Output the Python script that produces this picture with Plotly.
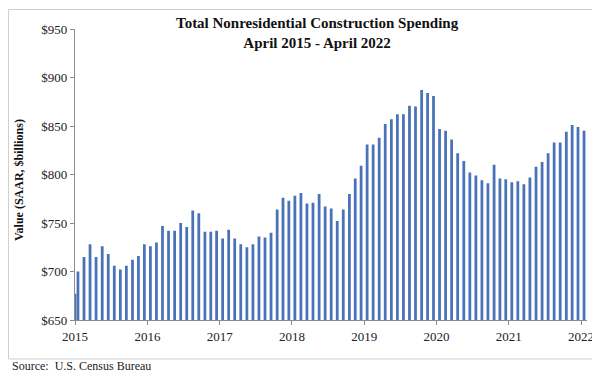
import plotly.graph_objects as go
import pandas as pd

# ---- data ----
months = pd.date_range("2015-04-01", "2022-04-01", freq="MS").strftime("%Y-%m-%d").tolist()
values = [
    700, 715, 728, 715, 726, 718, 706, 702, 706,
    712, 716, 728, 726, 730, 747, 742, 742, 750, 746, 763, 760,
    741, 741, 742, 734, 743, 734, 728, 725, 728, 736, 735, 740,
    764, 776, 773, 778, 781, 770, 771, 780, 767, 765, 752, 764,
    780, 796, 809, 831, 831, 838, 852, 857, 862, 862, 871, 870,
    887, 884, 881, 847, 845, 836, 822, 814, 802, 799, 794, 791,
    810, 796, 795, 792, 793, 790, 797, 808, 813, 822, 833, 833,
    844, 851, 849, 845,
]
lead_in_dates = ["2015-04-01"]
lead_in_values = [677]
tick_dates = ["2015-04-01", "2016-04-01", "2017-04-01", "2018-04-01",
              "2019-04-01", "2020-04-01", "2021-04-01", "2022-04-01"]
tick_labels = ["2015", "2016", "2017", "2018", "2019", "2020", "2021", "2022"]

BAR_COLOR = "#4a72b8"
AXIS_COLOR = "#8c8c8c"
FONT = "Liberation Serif, Times New Roman, serif"
DAY_MS = 86400000
bar_w = 14 * DAY_MS

fig = go.Figure()
fig.add_trace(go.Bar(
    x=lead_in_dates, y=lead_in_values, width=bar_w,
    marker=dict(color=BAR_COLOR, line=dict(width=0)), showlegend=False,
))
fig.add_trace(go.Bar(
    x=months, y=values, width=bar_w,
    xperiod="M1", xperiodalignment="middle",
    marker=dict(color=BAR_COLOR, line=dict(width=0)), showlegend=False,
))

L, R, T, B = 67, 21, 21, 60
W, H = 600, 372
pw = W - L - R
ph = H - T - B

def px_x(x):
    return (x - L) / pw

def px_y(y):
    return (H - B - y) / ph

fig.update_layout(
    width=W, height=H,
    margin=dict(l=L, r=R, t=T, b=B),
    paper_bgcolor="white", plot_bgcolor="white",
    font=dict(family=FONT, color="#222222", size=12.5),
    barmode="overlay",
    xaxis=dict(
        type="date",
        range=["2015-04-01", "2022-05-01"],
        tickvals=tick_dates, ticktext=tick_labels,
        showline=True, linecolor=AXIS_COLOR, linewidth=1.3,
        ticks="outside", ticklen=4, tickcolor=AXIS_COLOR,
        showgrid=False, zeroline=False,
        tickfont=dict(family=FONT, size=13, color="#222222"),
    ),
    yaxis=dict(
        range=[650, 950], dtick=50, tick0=650, tickprefix="$",
        showline=True, linecolor=AXIS_COLOR, linewidth=1.3,
        ticks="outside", ticklen=4, tickcolor=AXIS_COLOR,
        showgrid=False, zeroline=False,
        tickfont=dict(family=FONT, size=13, color="#222222"),
    ),
    shapes=[dict(
        type="rect", xref="paper", yref="paper",
        x0=px_x(0.5), x1=px_x(598.5), y0=px_y(351), y1=px_y(1.5),
        line=dict(color="#cfcfcf", width=1), fillcolor="rgba(0,0,0,0)",
        layer="below",
    )],
    annotations=[
        dict(text="<b>Total Nonresidential Construction Spending</b><br><b>April 2015 - April 2022</b>",
             xref="paper", yref="paper", x=px_x(309), y=px_y(25),
             xanchor="center", yanchor="middle", showarrow=False,
             font=dict(family=FONT, size=15, color="#111111")),
        dict(text="<b>Value (SAAR, $billions)</b>",
             xref="paper", yref="paper", x=px_x(11), y=px_y(172),
             xanchor="center", yanchor="middle", showarrow=False, textangle=-90,
             font=dict(family=FONT, size=12, color="#111111")),
        dict(text="Source:  U.S. Census Bureau",
             xref="paper", yref="paper", x=px_x(2), y=px_y(358),
             xanchor="left", yanchor="middle", showarrow=False,
             font=dict(family=FONT, size=12, color="#222222")),
    ],
)

fig.write_html("out.html")
